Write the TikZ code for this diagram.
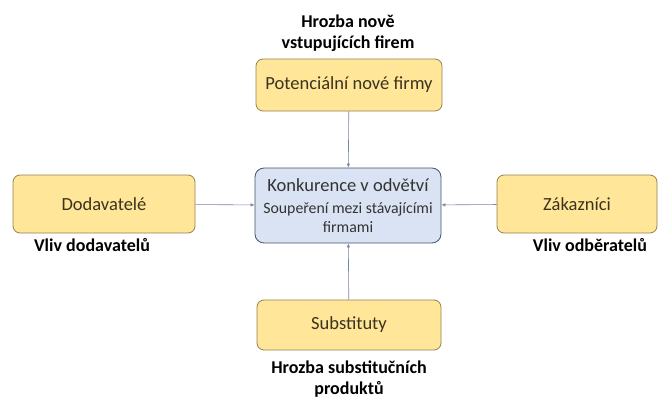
\documentclass[tikz,border=0pt]{standalone}
\usepackage{fontspec}
\setmainfont{Carlito}
\usetikzlibrary{positioning, arrows.meta}
\definecolor{forcefill}{RGB}{255, 230, 153}
\definecolor{forceedge}{RGB}{150, 130, 80}
\definecolor{corefill}{RGB}{218, 227, 243}
\definecolor{coreedge}{RGB}{68, 84, 106}
\definecolor{linkgray}{RGB}{120, 135, 160}
\definecolor{boxtext}{RGB}{60, 50, 30}

\tikzset{
    forcebox/.style={fill=forcefill, draw=forceedge, line width=0.8pt, rounded corners=7pt,
          minimum height=52pt, align=center, text=boxtext, font=\fontsize{18.5}{22}\selectfont},
    corebox/.style={fill=corefill, draw=coreedge, line width=0.8pt, rounded corners=9pt,
          minimum width=186pt, minimum height=75pt, inner sep=2pt, align=center, text=black!80,
          font=\fontsize{15.8}{19}\selectfont},
    forcelabel/.style={align=center, font=\bfseries\fontsize{18}{21}\selectfont},
    link/.style={draw=linkgray, line width=0.6pt, -{Latex[length=4pt, width=3.5pt]}}
}

\begin{document}
\begin{tikzpicture}[x=1pt, y=-1pt]
    \useasboundingbox (0,0) rectangle (667,399);
    % center
    \node[corebox] (core) at (348,205.5) {
        {\fontsize{18.5}{21}\selectfont Konkurence v odvětví}\\[3pt]
        Soupeření mezi stávajícími\\
        firmami
    };
    % four forces
    \node[forcebox, minimum width=186pt] (entrants) at (349,85) {Potenciální nové firmy};
    \node[forcebox, minimum width=182pt, minimum height=58pt] (suppliers) at (104,204) {Dodavatelé};
    \node[forcebox, minimum width=160pt, minimum height=58pt] (buyers) at (577,204) {Zákazníci};
    \node[forcebox, minimum width=184pt, minimum height=50pt] (substitutes) at (349,325) {Substituty};
    % labels
    \node[forcelabel] (entrantslbl) at (348,33) {Hrozba nově\\vstupujících firem};
    \node[forcelabel] (supplierslbl) at (92,245) {Vliv dodavatelů};
    \node[forcelabel] (buyerslbl) at (590,245) {Vliv odběratelů};
    \node[forcelabel] (substituteslbl) at (349,379) {Hrozba substitučních\\produktů};
    % arrows
    \draw[link] (entrants) -- (core);
    \draw[link] (suppliers) -- (core);
    \draw[link] (buyers) -- (core);
    \draw[link] (substitutes) -- (core);
\end{tikzpicture}
\end{document}
